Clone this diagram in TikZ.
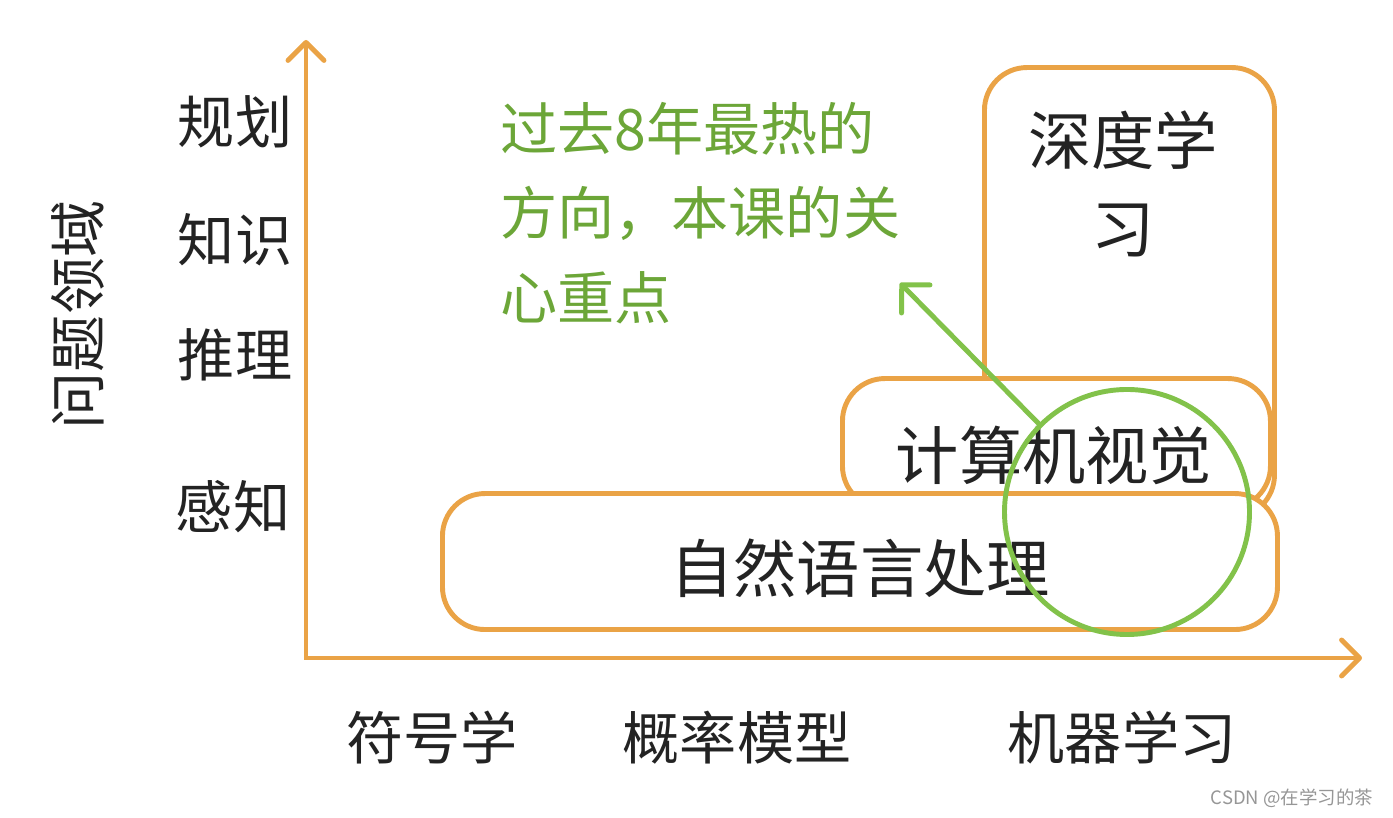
\documentclass[tikz,border=0pt]{standalone}
\usepackage{fontspec}
\setmainfont{Noto Sans CJK SC}
\usepackage{xcolor}
\usepackage{tikz}
\usetikzlibrary{arrows.meta, shapes.geometric, positioning}
\definecolor{myorange}{RGB}{234,163,70}
\definecolor{mygreen}{RGB}{130,194,74}
\definecolor{mygtext}{RGB}{108,166,56}
\definecolor{mydark}{RGB}{35,35,35}
\definecolor{mygray}{RGB}{150,150,150}
\tikzset{
  field/.style={rectangle, draw=myorange, fill=white, anchor=south west,
    rounded corners=0.85cm, line width=2.8pt, inner sep=0pt},
  axis/.style={line width=2.8pt, color=myorange, line cap=round,
    {Straight Barb[round,length=0.36cm,width=0.72cm]}-{Straight Barb[round,length=0.36cm,width=0.72cm]}},
  fieldtext/.style={font=\fontsize{36}{50}\selectfont, text=mydark, inner sep=0pt, align=center},
  axislabel/.style={font=\fontsize{32.5}{40}\selectfont, text=mydark, inner sep=0pt},
  hotarrow/.style={-{Straight Barb[round,length=0.4cm,width=0.8cm]}, line width=2.8pt,
    color=mygreen, line cap=round},
  hotnote/.style={font=\fontsize{32.5}{48}\selectfont, text=mygtext, inner sep=0pt, align=left}
}

\begin{document}
\begin{tikzpicture}
  \useasboundingbox (0,0) rectangle (27.86,16.34);

  % Axes
  \coordinate (origin) at (6.12,3.18);
  \coordinate (ytip) at (6.12,15.54);
  \coordinate (xtip) at (27.24,3.18);
  \draw[axis] (ytip) -- (origin) -- (xtip);

  % Fields
  \node[field, minimum width=5.8cm, minimum height=9.0cm] (dlbox) at (19.64,5.94) {};
  \node[field, minimum width=8.56cm, minimum height=2.6cm] (cvbox) at (16.80,6.12) {};
  \node[field, minimum width=16.7cm, minimum height=2.72cm] (nlpbox) at (8.80,3.70) {};
  \node[fieldtext] (dltext) at (22.46,12.66) {深度学\\习};
  \node[fieldtext] (cvtext) at (21.08,7.24) {计算机视觉};
  \node[fieldtext] (nlptext) at (17.20,4.98) {自然语言处理};

  % Problem domains
  \node[axislabel] (plan) at (4.70,13.90) {规划};
  \node[axislabel] (know) at (4.70,11.54) {知识};
  \node[axislabel] (reason) at (4.70,9.24) {推理};
  \node[axislabel] (percept) at (4.66,6.20) {感知};
  \node[axislabel, rotate=90] (domain) at (1.56,10.04) {问题领域};

  % Methods
  \node[axislabel] (symbolic) at (8.64,1.58) {符号学};
  \node[axislabel] (prob) at (14.74,1.58) {概率模型};
  \node[axislabel] (ml) at (22.44,1.58) {机器学习};

  % Focus of the course
  \node[hotnote, anchor=west] (hottext) at (10.0,12.08) {过去8年最热的\\方向，本课的关\\心重点};
  \node[circle, draw=mygreen, line width=2.8pt, minimum size=4.9cm] (focus) at (22.54,6.10) {};
  \coordinate (hot) at (18.0,10.68);
  \draw[hotarrow] (focus.135) -- (hot);

  \node[font=\fontsize{10.5}{12}\selectfont, text=mygray, inner sep=0pt] (credit) at (25.84,0.38) {CSDN @在学习的茶};
\end{tikzpicture}
\end{document}
